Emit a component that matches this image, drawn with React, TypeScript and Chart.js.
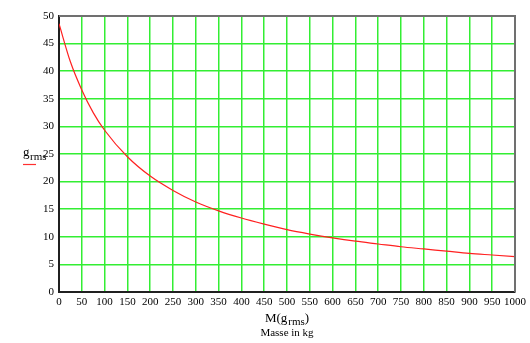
import React, { useEffect, useRef } from "react";
import { Chart, registerables } from "chart.js";

Chart.register(...registerables);

// Mass in kg (x) and g_rms (y)
const massKg = [0, 25, 50, 75, 100, 150, 200, 250, 300, 350, 400, 450, 500, 550, 600, 650, 700, 750, 800, 850, 900, 950, 1000];
const gRms = [48.6, 41.7, 36.6, 32.5, 29.3, 24.5, 21.0, 18.4, 16.3, 14.7, 13.4, 12.3, 11.3, 10.5, 9.8, 9.2, 8.7, 8.2, 7.8, 7.4, 7.0, 6.7, 6.4];

const xMin = 0;
const xMax = 1000;
const xStep = 50;
const yMin = 0;
const yMax = 50;
const yStep = 5;

const yLabelMain = "g";
const yLabelSub = "rms";
const xLabelMain = "M(g";
const xLabelSub = "rms";
const xLabelEnd = ")";
const xLabelLine2 = "Masse in kg";

const FONT = "'Liberation Serif', 'DejaVu Serif', serif";

const labelsPlugin = {
  id: "mathcadLabels",
  afterDraw(chart: any) {
    const ctx = chart.ctx;
    const a = chart.chartArea;
    ctx.save();
    // top and right frame (gray)
    ctx.strokeStyle = "#707070";
    ctx.lineWidth = 2;
    ctx.beginPath();
    ctx.moveTo(a.left, a.top);
    ctx.lineTo(a.right, a.top);
    ctx.lineTo(a.right, a.bottom);
    ctx.stroke();

    ctx.fillStyle = "#000";
    ctx.textBaseline = "alphabetic";
    // y label
    ctx.textAlign = "left";
    ctx.font = `13px ${FONT}`;
    ctx.fillText(yLabelMain, 23, 156);
    ctx.font = `11px ${FONT}`;
    ctx.fillText(yLabelSub, 30, 160);
    ctx.strokeStyle = "#ff3030";
    ctx.lineWidth = 1.2;
    ctx.beginPath();
    ctx.moveTo(23, 164.5);
    ctx.lineTo(36, 164.5);
    ctx.stroke();

    // x label
    const cx = (a.left + a.right) / 2;
    ctx.font = `13px ${FONT}`;
    const w1 = ctx.measureText(xLabelMain).width;
    const w3 = ctx.measureText(xLabelEnd).width;
    ctx.font = `11px ${FONT}`;
    const w2 = ctx.measureText(xLabelSub).width + 1;
    const x0 = cx - (w1 + w2 + w3) / 2;
    ctx.font = `13px ${FONT}`;
    ctx.fillText(xLabelMain, x0, 322);
    ctx.font = `11px ${FONT}`;
    ctx.fillText(xLabelSub, x0 + w1 + 1, 325);
    ctx.font = `13px ${FONT}`;
    ctx.fillText(xLabelEnd, x0 + w1 + w2, 322);
    ctx.font = `11px ${FONT}`;
    ctx.textAlign = "center";
    ctx.fillText(xLabelLine2, cx, 336);
    ctx.restore();
  },
};

export default function App() {
  const ref = useRef<HTMLCanvasElement | null>(null);
  useEffect(() => {
    document.body.style.margin = "0";
    const canvas = ref.current;
    if (!canvas) return;
    const chart = new Chart(canvas, {
      type: "line",
      data: {
        datasets: [
          {
            data: massKg.map((m, i) => ({ x: m, y: gRms[i] })),
            borderColor: "#ff2020",
            borderWidth: 1.2,
            pointRadius: 0,
            cubicInterpolationMode: "monotone",
            fill: false,
          },
        ],
      },
      options: {
        animation: false,
        responsive: false,
        maintainAspectRatio: false,
        layout: { padding: { left: 0, top: 16, right: 13, bottom: 0 } },
        plugins: { legend: { display: false }, tooltip: { enabled: false } },
        scales: {
          x: {
            type: "linear",
            min: xMin,
            max: xMax,
            afterFit: (s: any) => {
              s.height = 51;
            },
            ticks: {
              stepSize: xStep,
              autoSkip: false,
              maxRotation: 0,
              minRotation: 0,
              padding: 4,
              color: "#000",
              font: { family: FONT, size: 11 },
              callback: (v: any) => String(v),
            },
            grid: { color: "#33ee33", lineWidth: 1.5, drawTicks: false },
            border: { color: "#202020", width: 2 },
          },
          y: {
            type: "linear",
            min: yMin,
            max: yMax,
            afterFit: (s: any) => {
              s.width = 59;
            },
            ticks: {
              stepSize: yStep,
              autoSkip: false,
              padding: 5,
              color: "#000",
              font: { family: FONT, size: 11 },
              callback: (v: any) => String(v),
            },
            grid: { color: "#33ee33", lineWidth: 1.5, drawTicks: false },
            border: { color: "#202020", width: 2 },
          },
        },
      },
      plugins: [labelsPlugin],
    } as any);
    return () => chart.destroy();
  }, []);
  return (
    <div style={{ position: "absolute", left: 0, top: 0, width: 530, height: 343, background: "#fff" }}>
      <canvas ref={ref} width={530} height={343} />
    </div>
  );
}
